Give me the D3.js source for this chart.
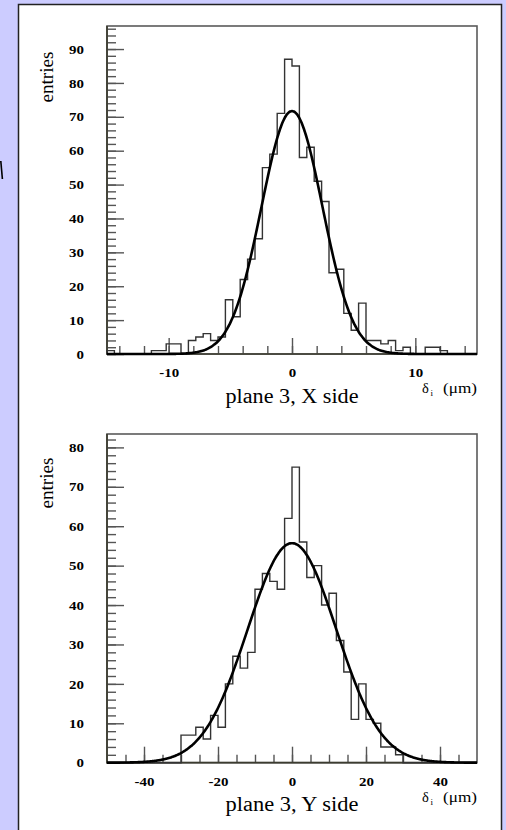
<!DOCTYPE html>
<html>
<head>
<meta charset="utf-8">
<script src="https://cdn.jsdelivr.net/npm/d3@7"></script>
<style>
  html, body { margin: 0; padding: 0; background: #ccccff; overflow: hidden; }
  svg { display: block; }
  .tick line { stroke: #555; stroke-width: 1.4; }
  .tick text { font-family: "Liberation Serif", "Times New Roman", serif; font-weight: bold; font-size: 13px; fill: #000; }
  .lbl { font-family: "Liberation Serif", "Times New Roman", serif; fill: #000; }
</style>
</head>
<body>
<div id="chart"></div>
<script>
// residual histograms, 50 bins each
var xSideCounts = [1, 0, 0, 0, 0, 0, 1, 1, 3, 3,
                   0, 4, 5, 6, 4, 5, 16, 11, 22, 28,
                   34, 55, 59, 71, 87, 85, 58, 61, 51, 45,
                   24, 25, 12, 7, 15, 4, 4, 3, 4, 1,
                   2, 0, 0, 2, 2, 1, 0, 0, 0, 0];
var ySideCounts = [0, 0, 0, 0, 0, 0, 0, 0, 0, 0,
                   7, 7, 9, 6, 12, 9, 20, 27, 24, 28,
                   44, 48, 46, 44, 62, 75, 56, 47, 50, 40,
                   43, 31, 23, 11, 20, 11, 10, 4, 4, 2,
                   0, 0, 0, 0, 0, 0, 0, 0, 0, 0];
var xSideRange = [-15, 15];
var ySideRange = [-50, 50];
var xSideYMax = 96.8;
var ySideYMax = 83.4;

// gaussian fit: amplitude, mean, sigma
var xSideFit = [71.7, 0.0, 2.47];
var ySideFit = [55.7, 0.0, 12.0];

// ticks
var xSideMajorX = [-10, 0, 10];
var xSideMinorX = d3.range(-14, 15, 2);
var xSideMajorY = [0, 10, 20, 30, 40, 50, 60, 70, 80, 90];
var xSideMinorY = d3.range(0, 97, 2);
var ySideMajorX = [-40, -20, 0, 20, 40];
var ySideMinorX = d3.range(-45, 46, 5);
var ySideMajorY = [0, 10, 20, 30, 40, 50, 60, 70, 80];
var ySideMinorY = d3.range(0, 83, 2);

var titles = ["plane 3, X side", "plane 3, Y side"];

var W = 506, H = 830;
var svg = d3.select("#chart").append("svg")
  .attr("width", W)
  .attr("height", H);

// white slide panel
svg.append("rect")
  .attr("x", 18.5).attr("y", 4.5)
  .attr("width", 483).attr("height", 840)
  .attr("fill", "#fff")
  .attr("stroke", "#222")
  .attr("stroke-width", 1.5);

// stray mark at the left edge
svg.append("path")
  .attr("d", "M0,161 L1.6,161 L3.2,179 L1.6,179 Z")
  .attr("fill", "#000");

// the original lettering is a little wider than the font
function stretch(sel, k) {
  sel.each(function () {
    var w = this.getComputedTextLength();
    d3.select(this).attr("textLength", w * k).attr("lengthAdjust", "spacingAndGlyphs");
  });
}

function histPanel(o) {
  var left = 107, right = 477;
  var x = d3.scaleLinear().domain(o.range).range([left, right]);
  var y = d3.scaleLinear().domain([0, o.yMax]).range([o.bottom, o.top]);
  var g = svg.append("g");

  // minor / major y ticks (inward)
  g.append("g")
    .attr("transform", "translate(" + left + ",0)")
    .call(d3.axisLeft(y).tickValues(o.minorY).tickSize(-9).tickFormat(function () { return ""; }))
    .call(function (a) { a.select(".domain").remove(); });
  g.append("g")
    .attr("transform", "translate(" + left + ",0)")
    .call(d3.axisLeft(y).tickValues(o.majorY).tickSize(-17).tickPadding(23).tickFormat(String))
    .call(function (a) { a.select(".domain").remove(); stretch(a.selectAll("text"), 1.15); });

  // minor / major x ticks (inward)
  g.append("g")
    .attr("transform", "translate(0," + o.bottom + ")")
    .call(d3.axisBottom(x).tickValues(o.minorX).tickSize(-8).tickFormat(function () { return ""; }))
    .call(function (a) { a.select(".domain").remove(); });
  g.append("g")
    .attr("transform", "translate(0," + o.bottom + ")")
    .call(d3.axisBottom(x).tickValues(o.majorX).tickSize(-16).tickPadding(14).tickFormat(String))
    .call(function (a) { a.select(".domain").remove(); stretch(a.selectAll("text"), 1.15); });

  // frame
  g.append("rect")
    .attr("x", left).attr("y", o.top)
    .attr("width", right - left).attr("height", o.bottom - o.top)
    .attr("fill", "none")
    .attr("stroke", "#5a5a5a")
    .attr("stroke-width", 1.6);
  g.append("path")
    .attr("d", "M" + left + "," + o.top + "V" + o.bottom + "H" + right)
    .attr("fill", "none")
    .attr("stroke", "#3c3c30")
    .attr("stroke-width", 1.7);

  // histogram outline
  var n = o.counts.length, bw = (o.range[1] - o.range[0]) / n;
  var p = d3.path();
  p.moveTo(x(o.range[0]), y(0));
  o.counts.forEach(function (c, i) {
    p.lineTo(x(o.range[0] + i * bw), y(c));
    p.lineTo(x(o.range[0] + (i + 1) * bw), y(c));
  });
  p.lineTo(x(o.range[1]), y(0));
  g.append("path")
    .attr("d", p.toString())
    .attr("fill", "none")
    .attr("stroke", "#333")
    .attr("stroke-width", 1.4);

  // gaussian fit
  var amp = o.fit[0], mu = o.fit[1], sig = o.fit[2];
  var xs = d3.range(o.range[0], o.range[1] + 1e-9, (o.range[1] - o.range[0]) / 400);
  var line = d3.line()
    .x(function (d) { return x(d); })
    .y(function (d) { return y(amp * Math.exp(-(d - mu) * (d - mu) / (2 * sig * sig))); })
    .curve(d3.curveBasis);
  g.append("path")
    .attr("d", line(xs))
    .attr("fill", "none")
    .attr("stroke", "#000")
    .attr("stroke-width", 2.6);

  // y label
  g.append("text")
    .attr("class", "lbl")
    .attr("transform", "translate(53," + o.entriesY + ") rotate(-90)")
    .attr("text-anchor", "middle")
    .attr("textLength", 51).attr("lengthAdjust", "spacingAndGlyphs")
    .style("font-size", "18px")
    .text("entries");

  // title
  g.append("text")
    .attr("class", "lbl")
    .attr("x", 292).attr("y", o.titleY)
    .attr("text-anchor", "middle")
    .attr("textLength", 133).attr("lengthAdjust", "spacingAndGlyphs")
    .style("font-size", "20.5px")
    .text(o.title);

  // unit label: delta_i (um)
  g.append("text")
    .attr("class", "lbl")
    .attr("x", 422).attr("y", o.unitY)
    .style("font-size", "14.5px")
    .text("δ");
  g.append("text")
    .attr("class", "lbl")
    .attr("x", 430.5).attr("y", o.unitY + 3)
    .style("font-size", "9px")
    .text("i");
  g.append("text")
    .attr("class", "lbl")
    .attr("x", 443).attr("y", o.unitY)
    .attr("textLength", 34).attr("lengthAdjust", "spacingAndGlyphs")
    .style("font-size", "14.5px")
    .text("(μm)");
}

histPanel({
  counts: xSideCounts, range: xSideRange, yMax: xSideYMax, fit: xSideFit,
  top: 26, bottom: 354,
  majorX: xSideMajorX, minorX: xSideMinorX, majorY: xSideMajorY, minorY: xSideMinorY,
  entriesY: 77, titleY: 402.7, unitY: 393.3, title: titles[0]
});
histPanel({
  counts: ySideCounts, range: ySideRange, yMax: ySideYMax, fit: ySideFit,
  top: 434, bottom: 762.7,
  majorX: ySideMajorX, minorX: ySideMinorX, majorY: ySideMajorY, minorY: ySideMinorY,
  entriesY: 483, titleY: 810.7, unitY: 801.7, title: titles[1]
});
</script>
</body>
</html>
